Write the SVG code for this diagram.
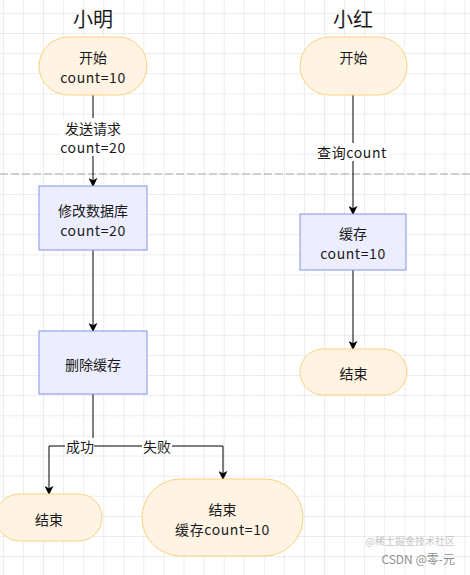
<svg xmlns="http://www.w3.org/2000/svg" width="470" height="575" viewBox="0 0 470 575">
<defs>
<pattern id="grid" patternUnits="userSpaceOnUse" x="2.9" y="12.9" width="20.07" height="20.12">
<path d="M0,0 H20.07 M0,0 V20.12" fill="none" stroke="#dadada" stroke-width="1"/>
</pattern>
<marker id="arr" viewBox="0 0 10 10" refX="9" refY="5" markerWidth="9" markerHeight="9" markerUnits="userSpaceOnUse" orient="auto">
<path d="M0,0 L10,5 L0,10 L2.5,5 z" fill="#000"/>
</marker>
<style>
.term{fill:#FFF4E4;stroke:#F8D27C;stroke-width:1}
.proc{fill:#ECEEFF;stroke:#8294E4;stroke-width:1}
.t{font-family:"Noto Sans CJK SC","Liberation Sans",sans-serif;font-size:14px;fill:#1a1a1a;text-anchor:middle;dominant-baseline:central}
.lt{letter-spacing:0.6px}
.title{font-family:"Noto Sans CJK SC","Liberation Sans",sans-serif;font-size:20px;fill:#1a1a1a;text-anchor:middle;dominant-baseline:central}
.edge{fill:none;stroke:#000;stroke-width:1}
.lbl{fill:#ffffff}
.wm{font-family:"Noto Sans CJK SC","Liberation Sans",sans-serif;text-anchor:end}
</style>
</defs>
<rect x="0" y="0" width="470" height="575" fill="#ffffff"/>
<rect x="0" y="0" width="470" height="575" fill="url(#grid)"/>
<line x1="0" y1="174" x2="470" y2="174" stroke="#a8a8a8" stroke-width="1" stroke-dasharray="8 3"/>

<text class="title" x="93" y="18">小明</text>
<text class="title" x="353" y="18">小红</text>

<g id="connectors">
<line class="edge" x1="93" y1="95" x2="93" y2="186" marker-end="url(#arr)"/>
<line class="edge" x1="93" y1="250" x2="93" y2="331" marker-end="url(#arr)"/>
<polyline class="edge" points="93,394 93,446 49,446 49,494" marker-end="url(#arr)"/>
<polyline class="edge" points="93,446 223,446 223,479" marker-end="url(#arr)"/>
<line class="edge" x1="353" y1="95" x2="353" y2="214" marker-end="url(#arr)"/>
<line class="edge" x1="353" y1="270" x2="353" y2="349" marker-end="url(#arr)"/>
<rect class="lbl" x="60" y="118" width="66" height="38"/>
<text class="t" x="93" y="128">发送请求</text>
<text class="t lt" x="93" y="147">count=20</text>
<rect class="lbl" x="317" y="143" width="72" height="18"/>
<text class="t lt" x="352" y="152">查询count</text>
<rect class="lbl" x="65" y="438" width="29" height="16"/>
<text class="t" x="80" y="446">成功</text>
<rect class="lbl" x="142" y="438" width="30" height="16"/>
<text class="t" x="157" y="446">失败</text>
</g>

<g id="start-xiaoming">
<rect class="term" x="39" y="37" width="108" height="58" rx="29" ry="29"/>
<text class="t" x="93" y="57">开始</text>
<text class="t lt" x="93" y="77">count=10</text>
</g>
<g id="update-db">
<rect class="proc" x="39" y="186" width="108" height="64"/>
<text class="t" x="93" y="210">修改数据库</text>
<text class="t lt" x="93" y="230">count=20</text>
</g>
<g id="delete-cache">
<rect class="proc" x="39" y="331" width="108" height="63"/>
<text class="t" x="93" y="364">删除缓存</text>
</g>
<g id="end-success">
<rect class="term" x="-4" y="494" width="106" height="47" rx="23.5" ry="23.5"/>
<text class="t" x="49" y="519">结束</text>
</g>
<g id="end-fail">
<rect class="term" x="142" y="479" width="161" height="77" rx="38.5" ry="38.5"/>
<text class="t" x="222.5" y="509">结束</text>
<text class="t lt" x="222.5" y="529">缓存count=10</text>
</g>
<g id="start-xiaohong">
<rect class="term" x="300" y="37" width="107" height="58" rx="29" ry="29"/>
<text class="t" x="353.5" y="57">开始</text>
</g>
<g id="cache">
<rect class="proc" x="300" y="214" width="106" height="56"/>
<text class="t" x="353" y="233">缓存</text>
<text class="t lt" x="353" y="253">count=10</text>
</g>
<g id="end-xiaohong">
<rect class="term" x="300" y="349" width="107" height="46" rx="23" ry="23"/>
<text class="t" x="353.5" y="373">结束</text>
</g>

<text class="wm" x="455" y="545" fill="#c4c4c4" font-size="10px">@稀土掘金技术社区</text>
<text class="wm" x="455" y="564" fill="#8f8f8f" font-size="12px">CSDN @零-元</text>
</svg>
